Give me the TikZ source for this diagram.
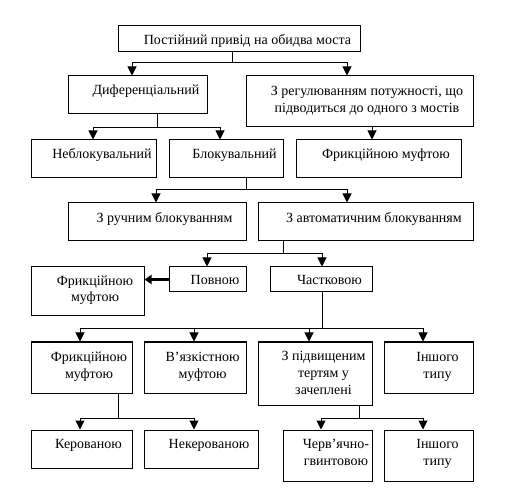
\documentclass[tikz,border=0pt]{standalone}
\usepackage{fontspec}
\setmainfont{Liberation Serif}
\usetikzlibrary{arrows.meta}
\begin{document}
\begin{tikzpicture}[x=1pt,y=-1pt,
  box/.style={draw,line width=1pt,inner sep=0pt,rectangle},
  txt/.style={font=\fontsize{14}{17}\selectfont,inner sep=0pt,anchor=base,align=center},
  ln/.style={line width=1pt},
  arr/.style={line width=1pt,-{Triangle[width=9pt,length=9pt]}},
  thickarr/.style={line width=2.5pt,-{Triangle[width=9pt,length=7pt]}}]
\useasboundingbox (0,0) rectangle (511,502);
% boxes
\node[box,minimum width=242,minimum height=26] (top) at (239,39) {};
\node[box,minimum width=139,minimum height=38] (dif) at (137.5,95) {};
\node[box,minimum width=227,minimum height=51] (reg) at (359.5,101.5) {};
\node[box,minimum width=125,minimum height=38] (nebl) at (93.5,159) {};
\node[box,minimum width=114,minimum height=38] (blok) at (226,159) {};
\node[box,minimum width=165,minimum height=38] (fryk1) at (378.5,159) {};
\node[box,minimum width=178,minimum height=38] (ruch) at (157,222) {};
\node[box,minimum width=215,minimum height=38] (avto) at (365.5,222) {};
\node[box,minimum width=113,minimum height=49] (fryk2) at (87.5,291.5) {};
\node[box,minimum width=77,minimum height=25] (povn) at (207.5,279.5) {};
\node[box,minimum width=102,minimum height=25] (chast) at (321,279.5) {};
\node[box,minimum width=101,minimum height=51] (fryk3) at (81.5,367.5) {};
\node[box,minimum width=102,minimum height=51] (viaz) at (195,367.5) {};
\node[box,minimum width=114,minimum height=63] (pidv) at (315,373.5) {};
\node[box,minimum width=89,minimum height=51] (insh1) at (428.5,367.5) {};
\node[box,minimum width=101,minimum height=38] (ker) at (81.5,449) {};
\node[box,minimum width=114,minimum height=38] (neker) at (201,449) {};
\node[box,minimum width=89,minimum height=51] (cherv) at (327.5,455.5) {};
\node[box,minimum width=89,minimum height=51] (insh2) at (428.5,455.5) {};
% texts (anchor base = baseline of the last line)
\node[txt] (ttop) at (247.5,45) {Постійний привід на обидва моста};
\node[txt] (tdif) at (146,95) {Диференціальний};
\node[txt] (treg) at (367,113) {З регулюванням потужності, що\\підводиться до одного з мостів};
\node[txt] (tnebl) at (102,159) {Неблокувальний};
\node[txt] (tblok) at (234.5,159) {Блокувальний};
\node[txt] (tfryk1) at (386,159) {Фрикційною муфтою};
\node[txt] (truch) at (164.5,223) {З ручним блокуванням};
\node[txt] (tavto) at (374,223) {З автоматичним блокуванням};
\node[txt] (tfryk2) at (95,302) {Фрикційною\\муфтою};
\node[txt] (tpovn) at (215,285) {Повною};
\node[txt] (tchast) at (329.5,285) {Частковою};
\node[txt] (tfryk3) at (89,378) {Фрикційною\\муфтою};
\node[txt] (tviaz) at (202.5,378) {В’язкістною\\муфтою};
\node[txt] (tpidv) at (323.5,394) {З підвищеним\\тертям у\\зачеплені};
\node[txt] (tinsh1) at (437.5,378) {Іншого\\типу};
\node[txt] (tker) at (88.5,448) {Керованою};
\node[txt] (tneker) at (209,448) {Некерованою};
\node[txt] (tcherv) at (336,465) {Черв'ячно-\\гвинтовою};
\node[txt] (tinsh2) at (437.5,465) {Іншого\\типу};
% junction coordinates
\coordinate (j1) at (232,63);
\coordinate (j2) at (157,128);
\coordinate (j3) at (246,190);
\coordinate (j4) at (283,254);
\coordinate (j5) at (322,329);
\coordinate (j6) at (118,418);
\coordinate (j7) at (359,418);
% connectors
\draw[ln] ([xshift=-7pt]top.south) -- (j1);
\draw[arr] (j1) -| ([xshift=-5.5pt]dif.north);
\draw[arr] (j1) -| ([xshift=-12.5pt]reg.north);
\draw[ln] ([xshift=19.5pt]dif.south) -- (j2);
\draw[arr] (j2) -| ([xshift=-0.5pt]nebl.north);
\draw[arr] (j2) -| ([xshift=-6pt]blok.north);
\draw[arr] ([xshift=12.5pt]reg.south) -- ([xshift=-6.5pt]fryk1.north);
\draw[ln] ([xshift=20pt]blok.south) -- (j3);
\draw[arr] (j3) -| ([xshift=-1pt]ruch.north);
\draw[arr] (j3) -| ([xshift=-18.5pt]avto.north);
\draw[ln] ([xshift=-82.5pt]avto.south) -- (j4);
\draw[arr] (j4) -| ([xshift=-0.5pt]povn.north);
\draw[arr] (j4) -| ([xshift=1pt]chast.north);
\draw[thickarr] (povn.west) -- (fryk2.east |- povn.west);
\draw[ln] ([xshift=1pt]chast.south) -- (j5);
\draw[arr] (j5) -| ([xshift=-1.5pt]fryk3.north);
\draw[arr] (j5) -| ([xshift=-1pt]viaz.north);
\draw[arr] (j5) -| ([xshift=-6pt]pidv.north);
\draw[arr] (j5) -| ([xshift=-5.5pt]insh1.north);
\draw[ln] ([xshift=36.5pt]fryk3.south) -- (j6);
\draw[arr] (j6) -| ([xshift=-1.5pt]ker.north);
\draw[arr] (j6) -| ([xshift=-7pt]neker.north);
\draw[ln] ([xshift=44pt]pidv.south) -- (j7);
\draw[arr] (j7) -| ([xshift=-6.5pt]cherv.north);
\draw[arr] (j7) -| ([xshift=-5.5pt]insh2.north);
\end{tikzpicture}
\end{document}
